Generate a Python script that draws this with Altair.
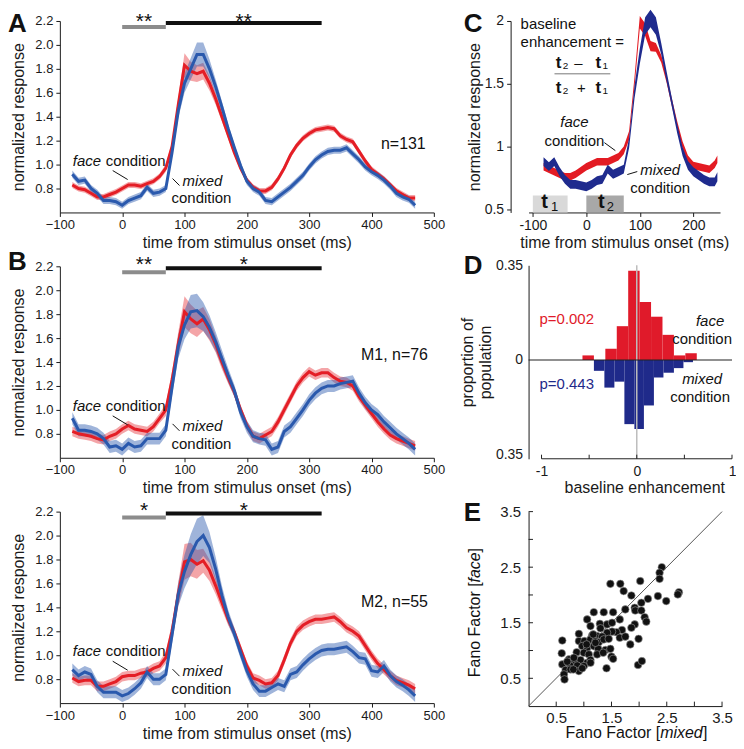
import altair as alt
import pandas as pd

FONT = "Liberation Sans"
RED = "#e41e26"
BLUE = "#2a59ad"
C_RED = "#e31b23"
C_BLUE = "#1f2b8e"
D_RED = "#e01a2a"
D_BLUE = "#1f2a8a"

# ---------------- data ----------------
times = list(range(-80, 480, 10))
x_ticks_ab = [-100, 0, 100, 200, 300, 400, 500]
y_ticks_ab = [0.8, 1.0, 1.2, 1.4, 1.6, 1.8, 2.0, 2.2]
sig_gray = [0, 70]
sig_black = [70, 320]

A_face = [0.83, 0.80, 0.79, 0.76, 0.73, 0.73, 0.75, 0.77, 0.80, 0.83,
          0.83, 0.82, 0.84, 0.86, 0.90, 0.97, 1.15, 1.50, 1.83, 1.78,
          1.76, 1.78, 1.68, 1.55, 1.40, 1.25, 1.10, 0.97, 0.87, 0.81,
          0.78, 0.78, 0.81, 0.88, 0.97, 1.08, 1.16, 1.22, 1.26, 1.29,
          1.30, 1.31, 1.30, 1.24, 1.21, 1.19, 1.11, 1.03, 0.96, 0.92,
          0.88, 0.83, 0.78, 0.75, 0.72, 0.72]
A_face_err = [0.025] * 15 + [0.03, 0.04, 0.06, 0.10, 0.08, 0.07, 0.07, 0.06, 0.05, 0.04, 0.035] + [0.025] * 30
A_mixed = [0.92, 0.86, 0.87, 0.80, 0.76, 0.70, 0.70, 0.69, 0.66, 0.70,
           0.72, 0.74, 0.81, 0.76, 0.77, 0.80, 1.10, 1.45, 1.68, 1.80,
           1.92, 1.92, 1.80, 1.65, 1.48, 1.30, 1.14, 0.99, 0.86, 0.80,
           0.77, 0.70, 0.69, 0.73, 0.77, 0.81, 0.86, 0.91, 0.98, 1.04,
           1.08, 1.11, 1.12, 1.12, 1.14, 1.09, 1.04, 0.98, 0.94, 0.91,
           0.87, 0.82, 0.76, 0.73, 0.71, 0.66]
A_mixed_err = [0.03] * 15 + [0.03, 0.04, 0.06, 0.08, 0.09, 0.10, 0.10, 0.08, 0.06, 0.05, 0.04] + [0.03] * 30

B1_face = [0.82, 0.80, 0.79, 0.78, 0.76, 0.75, 0.78, 0.80, 0.84, 0.87,
           0.84, 0.83, 0.82, 0.86, 0.93, 1.00, 1.25, 1.55, 1.82, 1.76,
           1.72, 1.76, 1.67, 1.55, 1.40, 1.27, 1.15, 1.00, 0.87, 0.78,
           0.76, 0.79, 0.82, 0.90, 1.00, 1.10, 1.20, 1.27, 1.32, 1.29,
           1.31, 1.31, 1.27, 1.24, 1.23, 1.20, 1.11, 1.04, 0.97, 0.90,
           0.84, 0.79, 0.76, 0.74, 0.72, 0.70]
B1_face_err = [0.04] * 15 + [0.05, 0.07, 0.10, 0.13, 0.12, 0.11, 0.10, 0.09, 0.07, 0.06, 0.05] + [0.04] * 30
B1_mixed = [0.93, 0.83, 0.83, 0.82, 0.80, 0.76, 0.69, 0.70, 0.67, 0.72,
            0.69, 0.70, 0.76, 0.76, 0.76, 0.83, 1.19, 1.53, 1.71, 1.82,
            1.83, 1.78, 1.69, 1.57, 1.43, 1.29, 1.16, 0.98, 0.86, 0.78,
            0.76, 0.75, 0.67, 0.69, 0.82, 0.86, 0.93, 1.00, 1.08, 1.14,
            1.18, 1.20, 1.20, 1.22, 1.23, 1.24, 1.14, 1.06, 1.00, 0.96,
            0.90, 0.85, 0.80, 0.76, 0.72, 0.67]
B1_mixed_err = [0.05] * 15 + [0.05, 0.07, 0.10, 0.12, 0.14, 0.14, 0.12, 0.10, 0.08, 0.07, 0.06] + [0.05] * 30

B2_face = [0.81, 0.78, 0.79, 0.79, 0.74, 0.74, 0.76, 0.78, 0.82, 0.83,
           0.83, 0.85, 0.86, 0.89, 0.91, 0.98, 1.20, 1.51, 1.78, 1.80,
           1.76, 1.79, 1.71, 1.58, 1.44, 1.30, 1.19, 1.05, 0.91, 0.81,
           0.79, 0.76, 0.77, 0.83, 0.96, 1.10, 1.20, 1.25, 1.28, 1.30,
           1.30, 1.31, 1.32, 1.28, 1.23, 1.20, 1.16, 1.08, 1.00, 0.93,
           0.88, 0.83, 0.79, 0.77, 0.75, 0.72]
B2_face_err = [0.04] * 15 + [0.05, 0.07, 0.10, 0.15, 0.14, 0.12, 0.10, 0.09, 0.07, 0.06, 0.05] + [0.04] * 30
B2_mixed = [0.88, 0.83, 0.86, 0.84, 0.74, 0.69, 0.69, 0.69, 0.66, 0.68,
            0.72, 0.77, 0.86, 0.80, 0.80, 0.84, 1.17, 1.51, 1.70, 1.84,
            1.95, 2.00, 1.90, 1.72, 1.50, 1.32, 1.18, 1.02, 0.87, 0.76,
            0.70, 0.70, 0.73, 0.76, 0.74, 0.84, 0.86, 0.92, 0.97, 1.01,
            1.04, 1.05, 1.05, 1.06, 1.07, 1.03, 0.98, 0.97, 0.87, 0.86,
            0.91, 0.83, 0.78, 0.75, 0.71, 0.66]
B2_mixed_err = [0.05] * 15 + [0.05, 0.07, 0.10, 0.14, 0.17, 0.19, 0.17, 0.13, 0.10, 0.08, 0.06] + [0.05] * 30

c_times = list(range(-80, 250, 10)) + [245]
C_face = [0.84, 0.82, 0.80, 0.78, 0.76, 0.76, 0.78, 0.81, 0.84, 0.86,
          0.88, 0.88, 0.88, 0.90, 0.92, 0.97, 1.09, 1.51, 1.99, 1.93,
          1.80, 1.79, 1.70, 1.54, 1.35, 1.17, 1.01, 0.90, 0.85, 0.84,
          0.83, 0.82, 0.86, 0.90]
C_face_err = [0.03] * 16 + [0.035, 0.04, 0.05, 0.05, 0.04, 0.035] + [0.03] * 12
C_mixed = [0.88, 0.84, 0.88, 0.80, 0.74, 0.70, 0.70, 0.69, 0.68, 0.70,
           0.73, 0.74, 0.82, 0.78, 0.80, 0.82, 1.03, 1.43, 1.72, 1.96,
           2.02, 1.96, 1.78, 1.56, 1.35, 1.14, 0.96, 0.85, 0.80, 0.77,
           0.74, 0.72, 0.72, 0.76]
C_mixed_err = [0.035] * 16 + [0.04, 0.05, 0.06, 0.07, 0.07, 0.07] + [0.045, 0.04] + [0.035] * 10
t1_win = [-100, -35]
t2_win = [0, 70]

d_red_edges = [-0.57, -0.45, -0.33, -0.21, -0.09, 0.03, 0.15, 0.27, 0.39, 0.51, 0.63]
d_red_heights = [0.017, 0.0, 0.042, 0.125, 0.33, 0.214, 0.16, 0.093, 0.017, 0.025]
d_blue_edges = [-0.45, -0.34, -0.235, -0.13, -0.025, 0.075, 0.18, 0.28, 0.39, 0.49, 0.59]
d_blue_heights = [0.040, 0.102, 0.080, 0.237, 0.255, 0.168, 0.065, 0.047, 0.030, 0.008]
d_ticks = [-1, -0.5, 0, 0.5, 1]

fano_mixed = [2.41, 2.37, 2.37, 1.48, 1.66, 2.02, 1.72, 1.86, 2.34, 2.16,
              2.72, 2.70, 2.49, 2.04, 1.75, 1.92, 1.93, 2.04, 1.18, 1.36,
              1.53, 1.06, 1.65, 2.10, 2.13, 1.12, 1.29, 1.42, 1.51, 1.92,
              1.86, 1.69, 1.59, 1.51, 1.42, 0.91, 1.15, 1.24, 1.33, 1.65,
              1.75, 0.61, 0.91, 1.01, 1.12, 1.21, 1.27, 1.36, 1.45, 1.84,
              1.99, 0.97, 1.06, 1.18, 1.26, 1.39, 1.48, 0.60, 0.87, 1.00,
              1.09, 1.24, 1.50, 1.53, 0.73, 0.82, 0.94, 1.06, 1.12, 0.61,
              0.75, 0.88, 1.00, 1.12, 0.67, 0.76, 0.91, 1.41, 0.64, 0.65,
              1.98, 2.05, 1.05, 1.17, 1.30, 1.21, 0.82, 0.70, 1.35, 0.81, 0.97]
fano_face = [2.50, 2.40, 2.29, 2.20, 2.20, 2.25, 2.07, 1.99, 1.98, 1.93,
             2.05, 2.01, 1.89, 1.86, 1.74, 1.77, 1.72, 1.72, 1.69, 1.69,
             1.69, 1.56, 1.56, 1.60, 1.52, 1.44, 1.48, 1.47, 1.50, 1.47,
             1.41, 1.37, 1.33, 1.34, 1.32, 1.30, 1.27, 1.26, 1.25, 1.23,
             1.25, 1.18, 1.17, 1.17, 1.20, 1.17, 1.15, 1.20, 1.21, 1.11,
             1.21, 1.08, 1.05, 1.08, 1.03, 1.01, 1.03, 0.95, 0.97, 0.96,
             0.93, 0.93, 0.89, 0.85, 0.84, 0.81, 0.83, 0.78, 0.83, 0.75,
             0.73, 0.73, 0.72, 0.78, 0.65, 0.66, 0.63, 0.68, 0.57, 0.48,
             0.74, 0.81, 1.11, 1.29, 1.40, 1.14, 0.87, 0.80, 0.96, 0.66, 0.68]
e_ticks = [0.5, 1.0, 1.5, 2.0, 2.5, 3.0, 3.5]
diag = [0, 3.5]

# ---------------- helpers ----------------
ONE = pd.DataFrame({"k": [0]})


def txt(text, x, y, size=15, style="normal", weight="normal", align="left",
        color="#111111", baseline="middle", angle=0):
    kw = dict(text=text, fontSize=size, fontStyle=style, fontWeight=weight,
              align=align, baseline=baseline, color=color, font=FONT)
    if angle:
        kw["angle"] = angle
    return alt.Chart(ONE).mark_text(**kw).encode(x=alt.value(x), y=alt.value(y))


def seg(x1, y1, x2, y2, color="#111111", width=1.0, opacity=1.0):
    return alt.Chart(ONE).mark_rule(color=color, strokeWidth=width, opacity=opacity).encode(
        x=alt.value(x1), y=alt.value(y1), x2=alt.value(x2), y2=alt.value(y2))


def series_df(ts, vals, errs):
    return pd.DataFrame({"t": ts, "m": vals,
                         "lo": [v - e for v, e in zip(vals, errs)],
                         "hi": [v + e for v, e in zip(vals, errs)]})


LW, LH = 375, 192
TOP = -10

AX_T = alt.Axis(values=x_ticks_ab, title="time from stimulus onset (ms)", labelFontSize=13,
                titleFontSize=16, tickSize=4, labelPadding=2, titlePadding=3, labelFlush=False)
AX_R = alt.Axis(values=y_ticks_ab, format=".1f", title="normalized response", labelFontSize=13,
                titleFontSize=16, tickSize=4, labelPadding=3, titlePadding=8, labelFlush=False)


def LX(f):
    return alt.X(f, scale=alt.Scale(domain=[-100, 500], nice=False, zero=False), axis=AX_T)


def LY(f):
    return alt.Y(f, scale=alt.Scale(domain=[0.6, 2.2], nice=False, zero=False), axis=AX_R)


def left_panel(face, face_err, mixed, mixed_err, stars, note, note_x, note_y,
               letter, letter_y, star_y, marker=False):
    df_f = series_df(times, face, face_err)
    df_m = series_df(times, mixed, mixed_err)
    sig = pd.DataFrame({"a": [sig_gray[0], sig_black[0]], "b": [sig_gray[1], sig_black[1]], "s": stars})
    sig["c"] = (sig["a"] + sig["b"]) / 2
    layers = [
        alt.Chart(df_f).mark_area(color=RED, opacity=0.4).encode(x=LX("t:Q"), y=LY("lo:Q"), y2="hi:Q"),
        alt.Chart(df_m).mark_area(color=BLUE, opacity=0.45).encode(x=LX("t:Q"), y=LY("lo:Q"), y2="hi:Q"),
        alt.Chart(df_f).mark_line(color=RED, strokeWidth=3).encode(x=LX("t:Q"), y=LY("m:Q")),
        alt.Chart(df_m).mark_line(color=BLUE, strokeWidth=3).encode(x=LX("t:Q"), y=LY("m:Q")),
        alt.Chart(sig.iloc[[0]]).mark_rule(color="#8c8c8c", strokeWidth=4).encode(
            x=LX("a:Q"), x2="b:Q", y=alt.value(6)),
        alt.Chart(sig.iloc[[1]]).mark_rule(color="#111111", strokeWidth=4).encode(
            x=LX("a:Q"), x2="b:Q", y=alt.value(2)),
        alt.Chart(sig).mark_text(fontSize=21, baseline="top", color="#111111", font=FONT).encode(
            x=LX("c:Q"), y=alt.value(star_y), text="s:N"),
        txt("face", 13, 140, style="italic"),
        txt("condition", 46, 140),
        seg(53, 150, 68, 159),
        txt("mixed", 123, 160, style="italic"),
        txt("condition", 112, 178),
        seg(113, 158, 120, 165),
        txt(note, note_x, note_y, size=16),
        txt(letter, -52, letter_y, size=26, weight="bold", baseline="top"),
    ]
    if marker:
        layers.append(seg(390, 0, 390, 5, color="white", opacity=0))
    return alt.layer(*layers).properties(width=LW, height=LH)


panelA = left_panel(A_face, A_face_err, A_mixed, A_mixed_err, ["**", "**"], "n=131", 322, 123,
                    "A", TOP, TOP, marker=True)
panelB1 = left_panel(B1_face, B1_face_err, B1_mixed, B1_mixed_err, ["**", "*"], "M1, n=76", 302, 89,
                     "B", -17, -12)
panelB2 = left_panel(B2_face, B2_face_err, B2_mixed, B2_mixed_err, ["*", "*"], "M2, n=55", 302, 91,
                     "", -17, -12)

# ---------------- panel C ----------------
CW, CH = 192, 192


def CX(f):
    return alt.X(f, scale=alt.Scale(domain=[-108, 250], nice=False, zero=False),
                 axis=alt.Axis(values=[-100, 0, 100, 200], labelExpr="datum.value",
                               title="time from stimulus onset (ms)", labelFontSize=14, titleFontSize=16,
                               tickSize=4, labelPadding=2, titlePadding=2, labelFlush=False))


def CY(f):
    return alt.Y(f, scale=alt.Scale(domain=[0.476, 2.0], nice=False, zero=False),
                 axis=alt.Axis(values=[0.5, 1, 1.5, 2], labelExpr="datum.value", offset=18,
                               title="normalized response", labelFontSize=14, titleFontSize=16,
                               tickSize=4, labelPadding=3, titlePadding=2, labelFlush=False))


cf = series_df(c_times, C_face, C_face_err)
cm = series_df(c_times, C_mixed, C_mixed_err)
panelC = alt.layer(
    alt.Chart(pd.DataFrame({"a": [t1_win[0]], "b": [t1_win[1]]})).mark_rect(color="#d9d9d9").encode(
        x=CX("a:Q"), x2="b:Q", y=alt.value(175), y2=alt.value(192)),
    alt.Chart(pd.DataFrame({"a": [t2_win[0]], "b": [t2_win[1]]})).mark_rect(color="#a8a8a8").encode(
        x=CX("a:Q"), x2="b:Q", y=alt.value(175), y2=alt.value(192)),
    alt.Chart(cf).mark_area(color=C_RED).encode(x=CX("t:Q"), y=CY("lo:Q"), y2="hi:Q"),
    alt.Chart(cm).mark_area(color=C_BLUE).encode(x=CX("t:Q"), y=CY("lo:Q"), y2="hi:Q"),
    txt("C", -65, TOP, size=26, weight="bold", baseline="top"),
    txt("baseline", -8, 3),
    txt("enhancement =", -8, 21),
    txt("t", 30, 42, size=17, weight="bold", align="center"),
    txt("2", 37, 45, size=10, align="center"),
    txt("\u2013", 50, 42, size=15, align="center"),
    txt("t", 70, 42, size=17, weight="bold", align="center"),
    txt("1", 77, 45, size=10, align="center"),
    seg(26, 53, 82, 53, color="#777777"),
    txt("t", 30, 67, size=17, weight="bold", align="center"),
    txt("2", 37, 70, size=10, align="center"),
    txt("+", 53, 67, size=15, align="center"),
    txt("t", 70, 67, size=17, weight="bold", align="center"),
    txt("1", 77, 70, size=10, align="center"),
    txt("face", 46, 101, style="italic", align="center"),
    txt("condition", 46, 120, align="center"),
    seg(76, 122, 87, 130),
    txt("mixed", 132, 149, style="italic", align="center"),
    txt("condition", 132, 167, align="center"),
    seg(99, 154, 109, 151),
    txt("t", 16, 182, size=20, weight="bold", align="center"),
    txt("1", 26, 187, size=13, align="center"),
    txt("t", 73, 182, size=20, weight="bold", align="center"),
    txt("2", 82, 187, size=13, align="center"),
    seg(-75, 0, -75, 5, color="white", opacity=0),
).properties(width=CW, height=CH)

# ---------------- panel D ----------------
DW, DH = 204, 194
DXS = alt.Scale(domain=[-1.136, 1], nice=False, zero=False)
DYS = alt.Scale(domain=[-0.365, 0.35], nice=False, zero=False)
DXA = alt.Axis(values=[-1, 0, 1], labelExpr="datum.value", ticks=False, domain=False,
               title="baseline enhancement", titleX=116, labelFontSize=14, titleFontSize=16,
               labelPadding=6, titlePadding=1, labelFlush=False)
DYA = alt.Axis(values=[0.35, 0, -0.35], labelExpr="abs(datum.value)", ticks=False,
               title=["proportion of", "population"], labelFontSize=14, titleFontSize=16,
               labelPadding=6, titlePadding=2, labelFlush=False)
d_red = pd.DataFrame({"lo": d_red_edges[:-1], "hi": d_red_edges[1:], "h": d_red_heights, "z": 0.0})
d_blue = pd.DataFrame({"lo": d_blue_edges[:-1], "hi": d_blue_edges[1:],
                       "h": [-v for v in d_blue_heights], "z": 0.0})
d_tk = pd.DataFrame({"x": d_ticks, "y0": -0.365, "y1": -0.35})
d_ax = pd.DataFrame({"a": [d_ticks[0]], "b": [d_ticks[-1]], "y": [-0.365]})
panelD = alt.layer(
    alt.Chart(d_red).mark_rect(color=D_RED).encode(
        x=alt.X("lo:Q", scale=DXS, axis=DXA), x2="hi:Q", y=alt.Y("h:Q", scale=DYS, axis=DYA), y2="z:Q"),
    alt.Chart(d_blue).mark_rect(color=D_BLUE).encode(
        x=alt.X("lo:Q", scale=DXS, axis=DXA), x2="hi:Q", y=alt.Y("h:Q", scale=DYS, axis=DYA), y2="z:Q"),
    alt.Chart(pd.DataFrame({"x": [0.0]})).mark_rule(color="#bdbdbd", strokeWidth=1.5).encode(
        x=alt.X("x:Q", scale=DXS, axis=DXA), y=alt.value(0), y2=alt.value(DH)),
    alt.Chart(pd.DataFrame({"y": [0.0]})).mark_rule(color="#222222", strokeWidth=1.2).encode(
        y=alt.Y("y:Q", scale=DYS, axis=DYA), x=alt.value(0), x2=alt.value(DW)),
    alt.Chart(d_ax).mark_rule(color="#222222", strokeWidth=1).encode(
        x=alt.X("a:Q", scale=DXS, axis=DXA), x2="b:Q", y=alt.Y("y:Q", scale=DYS, axis=DYA)),
    alt.Chart(d_tk).mark_rule(color="#222222", strokeWidth=1).encode(
        x=alt.X("x:Q", scale=DXS, axis=DXA), y=alt.Y("y0:Q", scale=DYS, axis=DYA), y2="y1:Q"),
    txt("D", -65, 1, size=26, weight="bold"),
    txt("p=0.002", 11, 54, color=D_RED),
    txt("p=0.443", 11, 119, color=D_BLUE),
    txt("face", 182, 56, style="italic", align="center"),
    txt("condition", 144, 74),
    txt("mixed", 174, 114, style="italic", align="center"),
    txt("condition", 142, 132),
).properties(width=DW, height=DH)

# ---------------- panel E ----------------
EW, EH = 194, 195
ES = alt.Scale(domain=[0, 3.5], nice=False, zero=False)
EXA = alt.Axis(values=[0.5, 1.5, 2.5, 3.5], format=".1f", ticks=False, title=None,
               labelFontSize=15, labelPadding=4, labelFlush=False)
EYA = alt.Axis(values=[0.5, 1.5, 2.5, 3.5], format=".1f", ticks=False, title=None,
               labelFontSize=15, labelPadding=8, labelFlush=False)
e_pts = pd.DataFrame({"fm": fano_mixed, "ff": fano_face})
e_diag = pd.DataFrame({"x": [diag[0]], "y": [diag[0]], "x2": [diag[1]], "y2": [diag[1]]})
e_xt = pd.DataFrame({"x": e_ticks, "y0": 0.0, "y1": 0.08})
e_yt = pd.DataFrame({"y": e_ticks, "x0": 0.0, "x1": 0.08})
panelE = alt.layer(
    alt.Chart(e_diag).mark_rule(color="#555555", strokeWidth=1).encode(
        x=alt.X("x:Q", scale=ES, axis=EXA), y=alt.Y("y:Q", scale=ES, axis=EYA), x2="x2:Q", y2="y2:Q"),
    alt.Chart(e_xt).mark_rule(color="#222222").encode(
        x=alt.X("x:Q", scale=ES, axis=EXA), y=alt.Y("y0:Q", scale=ES, axis=EYA), y2="y1:Q"),
    alt.Chart(e_yt).mark_rule(color="#222222").encode(
        y=alt.Y("y:Q", scale=ES, axis=EYA), x=alt.X("x0:Q", scale=ES, axis=EXA), x2="x1:Q"),
    alt.Chart(e_pts).mark_circle(size=58, color="#111111", opacity=1, stroke="#9a9a9a", strokeWidth=0.6).encode(
        x=alt.X("fm:Q", scale=ES, axis=EXA), y=alt.Y("ff:Q", scale=ES, axis=EYA)),
    txt("E", -65, 1, size=26, weight="bold"),
    txt("Fano Factor [", 132, 222, size=16, align="right"),
    txt("mixed", 132, 222, size=16, style="italic"),
    txt("]", 175, 222, size=16),
    txt("Fano Factor [", -54, 166, size=16, angle=270),
    txt("face", -54, 71, size=16, style="italic", angle=270),
    txt("]", -54, 41, size=16, angle=270),
).properties(width=EW, height=EH)

left = alt.vconcat(panelA, panelB1, panelB2, spacing=54, bounds="flush")
right = alt.vconcat(panelC, panelD, panelE, spacing=53, bounds="flush")

chart = alt.hconcat(left, right, spacing=5).properties(padding=0).configure(
    font=FONT
).configure_view(stroke=None).configure_axis(
    labelFont=FONT, titleFont=FONT, labelColor="#1a1a1a", titleColor="#1a1a1a",
    domainColor="#1a1a1a", tickColor="#1a1a1a", titleFontWeight="normal", grid=False,
    labelFlush=False
)

chart.save("out.html", embed_options={"renderer": "svg", "actions": False})
